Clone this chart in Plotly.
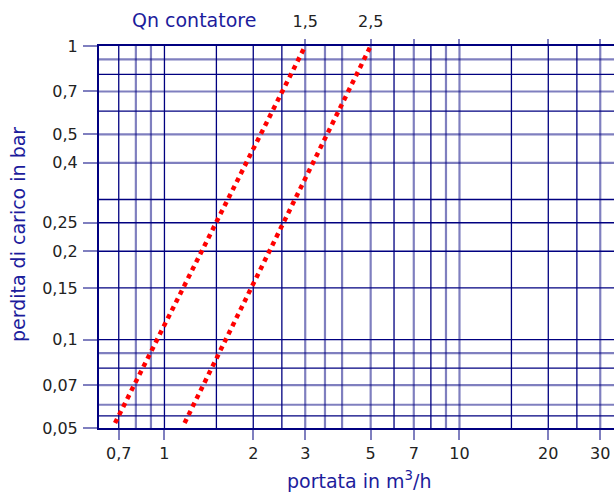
import math
import plotly.graph_objects as go

# ---- data ----
x_tick_vals = [0.7, 1, 2, 3, 5, 7, 10, 20, 30]
x_tick_text = ["0,7", "1", "2", "3", "5", "7", "10", "20", "30"]
y_tick_vals = [1, 0.7, 0.5, 0.4, 0.25, 0.2, 0.15, 0.1, 0.07, 0.05]
y_tick_text = ["1", "0,7", "0,5", "0,4", "0,25", "0,2", "0,15", "0,1", "0,07", "0,05"]
top_tick_vals = [3, 5]
top_tick_text = ["1,5", "2,5"]
top_extra_ticks = [7, 10, 20, 30]

v_grid_dark = [0.7, 1, 1.5, 2, 2.5, 6, 8, 15, 20, 25]
v_grid_light = [0.8, 0.9, 3, 3.5, 4, 5, 7, 9, 10, 30]
h_grid_dark = [0.8, 0.6, 0.3, 0.25, 0.2, 0.15, 0.1, 0.08, 0.055]
h_grid_light = [0.9, 0.7, 0.5, 0.4, 0.09, 0.07, 0.06]

# curves (Qn 1,5 and Qn 2,5): end points of straight lines on log-log paper
qn_labels = ["1,5", "2,5"]
q_15 = [0.68, 3.0]
dp_15 = [0.052, 1.0]
q_25 = [1.17, 5.0]
dp_25 = [0.052, 1.0]

x_range = [math.log10(0.6), math.log10(33.4)]
y_range = [math.log10(0.05), 0]

NAVY = "#000080"
LIGHT = "rgba(0,0,128,0.5)"
TITLE = "#1c1c9c"
FONT = "DejaVu Sans"

fig = go.Figure()
for xs, ys, name in [(q_15, dp_15, qn_labels[0]), (q_25, dp_25, qn_labels[1])]:
    fig.add_trace(go.Scatter(x=xs, y=ys, mode="lines", name=name,
                             line=dict(color="#ff0000", width=4.5, dash="dot"),
                             showlegend=False, hoverinfo="skip"))

shapes = []
for v in v_grid_dark:
    shapes.append(dict(type="line", xref="x", yref="paper", x0=v, x1=v, y0=0, y1=1,
                       line=dict(color=NAVY, width=1.3), layer="below"))
for v in v_grid_light:
    shapes.append(dict(type="line", xref="x", yref="paper", x0=v, x1=v, y0=0, y1=1,
                       line=dict(color=LIGHT, width=2.2), layer="below"))
for v in h_grid_dark:
    shapes.append(dict(type="line", xref="paper", yref="y", x0=0, x1=1, y0=v, y1=v,
                       line=dict(color=NAVY, width=1.3), layer="below"))
for v in h_grid_light:
    shapes.append(dict(type="line", xref="paper", yref="y", x0=0, x1=1, y0=v, y1=v,
                       line=dict(color=LIGHT, width=2.2), layer="below"))

fig.update_layout(
    width=614, height=492,
    margin=dict(l=99, r=0, t=46, b=64),
    paper_bgcolor="white", plot_bgcolor="white",
    font=dict(family=FONT, size=16, color="#222222"),
    shapes=shapes,
    xaxis=dict(type="log", range=x_range, tickmode="array", tickvals=x_tick_vals,
               ticktext=x_tick_text, ticks="outside", ticklen=10, tickwidth=2,
               tickcolor=LIGHT, showgrid=False, zeroline=False, automargin=False,
               showline=True, linecolor=NAVY, linewidth=2, mirror=True,
               ticklabelstandoff=0),
    xaxis2=dict(type="log", range=x_range, overlaying="x", side="top",
                tickmode="array", tickvals=top_tick_vals, ticktext=top_tick_text,
                ticks="outside", ticklen=6, tickwidth=2, tickcolor=LIGHT,
                minor=dict(tickmode="array", tickvals=top_extra_ticks, ticks="outside",
                           ticklen=6, tickwidth=2, tickcolor=LIGHT, showgrid=False),
                showgrid=False, zeroline=False, showline=False, automargin=False,
                ticklabelstandoff=6),
    yaxis=dict(type="log", range=y_range, tickmode="array", tickvals=y_tick_vals,
               ticktext=y_tick_text, ticks="outside", ticklen=14, tickwidth=2,
               tickcolor=LIGHT, showgrid=False, zeroline=False, automargin=False,
               showline=True, linecolor=NAVY, linewidth=2, ticklabelstandoff=2),
    annotations=[
        dict(text="perdita di carico in bar", xref="paper", yref="paper", x=0, y=0.505,
             xshift=-81, textangle=-90, showarrow=False, xanchor="center", yanchor="middle",
             font=dict(family=FONT, size=19, color=TITLE)),
        dict(text="portata in m<sup>3</sup>/h", xref="paper", yref="paper", x=0.505, y=0,
             yshift=-52, showarrow=False, xanchor="center", yanchor="middle",
             font=dict(family=FONT, size=19, color=TITLE)),
        dict(text="Qn contatore", xref="paper", yref="paper", x=0.184, y=1,
             yshift=26, showarrow=False, xanchor="center", yanchor="middle",
             font=dict(family=FONT, size=19, color=TITLE)),
    ],
)
# attach an invisible trace to xaxis2 so it renders
fig.add_trace(go.Scatter(x=[3], y=[1], xaxis="x2", mode="markers",
                         marker=dict(opacity=0), showlegend=False, hoverinfo="skip"))

fig.write_html("out.html", config={"displayModeBar": False},
               post_script="document.body.style.margin='0';document.body.style.overflow='hidden';")
